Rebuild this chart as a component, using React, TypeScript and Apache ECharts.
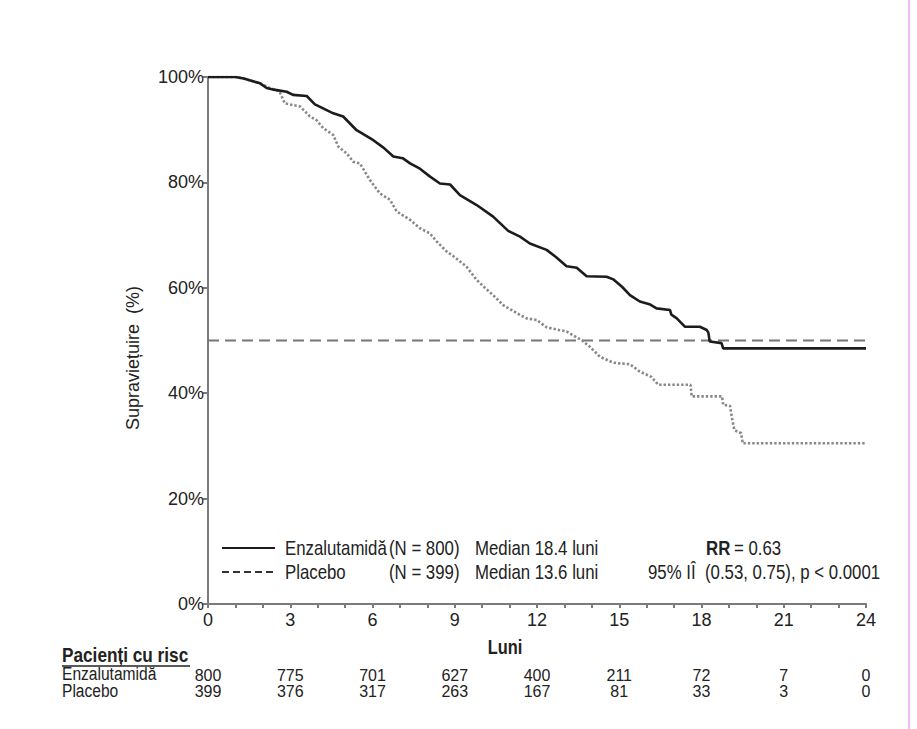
import React, { useEffect, useRef } from "react";
import * as echarts from "echarts";

// ---- data ----
const riskMonths = [0, 3, 6, 9, 12, 15, 18, 21, 24];
const riskEnza = [800, 775, 701, 627, 400, 211, 72, 7, 0];
const riskPlacebo = [399, 376, 317, 263, 167, 81, 33, 3, 0];
const yTickValues = [0, 20, 40, 60, 80, 100];
const medianLevel = 50;

const enzaCurve: [number, number][] = [
  [0, 100], [1.0, 100], [1.3, 99.7], [1.9, 98.8], [2.14, 97.9], [2.4, 97.6], [2.87, 97.2],
  [3.1, 96.6], [3.6, 96.4], [3.9, 94.8], [4.57, 93.1], [4.93, 92.5], [5.42, 89.9],
  [6.03, 88.0], [6.4, 86.6], [6.76, 84.9], [7.1, 84.6], [7.37, 83.6], [7.73, 82.6],
  [8.1, 81.1], [8.46, 79.8], [8.83, 79.6], [9.19, 77.6], [9.8, 75.7], [10.4, 73.5],
  [10.95, 70.8], [11.38, 69.7], [11.74, 68.4], [12.35, 67.2], [12.7, 65.8], [13.08, 64.1],
  [13.45, 63.8], [13.81, 62.2], [14.54, 62.1], [14.78, 61.6], [15.1, 60.2], [15.39, 58.6],
  [15.75, 57.4], [16.1, 56.9], [16.36, 56.1], [16.85, 55.8], [16.9, 54.9], [17.1, 54.2],
  [17.4, 52.6], [17.94, 52.6], [18.19, 52.0], [18.25, 51.5], [18.3, 49.8], [18.73, 49.5],
  [18.79, 48.5], [24, 48.5],
];

const placeboCurve: [number, number][] = [
  [0, 100], [1.0, 100], [1.3, 99.7], [1.9, 98.8], [2.26, 97.9], [2.6, 97.3], [2.69, 96.3],
  [2.8, 95.0], [3.36, 94.4], [3.72, 92.5], [3.96, 91.8], [4.2, 90.3], [4.57, 89.0],
  [4.75, 86.8], [5.06, 85.5], [5.3, 83.9], [5.54, 83.6], [5.9, 80.5], [6.27, 77.9],
  [6.64, 76.7], [6.88, 74.5], [7.37, 72.9], [7.73, 71.3], [8.1, 70.3], [8.34, 68.8],
  [8.7, 66.9], [8.95, 66.0], [9.43, 64.0], [9.8, 61.5], [10.1, 60.0], [10.4, 58.6],
  [10.77, 56.7], [11.26, 55.2], [11.62, 54.2], [11.99, 53.9], [12.35, 52.5], [13.08, 51.7],
  [13.45, 50.6], [13.65, 50.0], [13.93, 48.8], [14.3, 46.9], [14.78, 45.8], [14.9, 45.7],
  [15.39, 45.5], [15.75, 44.1], [16.17, 43.1], [16.42, 41.6], [17.6, 41.6], [17.64, 39.4],
  [18.75, 39.4], [18.79, 37.8], [19.04, 37.6], [19.1, 35.6], [19.2, 33.0], [19.45, 32.4],
  [19.5, 30.5], [24, 30.5],
];

const FONT = '"Liberation Sans", Arial, sans-serif';
const NARROW_SCALE = 0.82;

export default function App() {
  const ref = useRef<HTMLDivElement>(null);
  useEffect(() => {
    if (!ref.current) return;
    const chart = echarts.init(ref.current, undefined, { renderer: "svg" });
    const axisGray = "#7b7b7b";
    const textCol = "#222";
    const riskAxis = (vals: number[], offset: number) => ({
      type: "value",
      min: 0,
      max: 24,
      interval: 3,
      position: "bottom",
      offset,
      axisLine: { show: false },
      axisTick: { show: false },
      splitLine: { show: false },
      axisLabel: {
        margin: 0,
        color: textCol,
        fontFamily: FONT,
        fontSize: 16,
        lineHeight: 16,
        formatter: (v: number) => {
          const i = riskMonths.indexOf(v);
          return i >= 0 ? String(vals[i]) : "";
        },
      },
    });
    const legendY1 = 548;
    const legendY2 = 572;
    const lt = (text: string, x: number, y: number, extra: any = {}) => ({
      type: "text",
      x,
      y,
      scaleX: NARROW_SCALE,
      style: {
        text,
        fill: textCol,
        fontFamily: FONT,
        fontSize: 19,
        verticalAlign: "middle",
        align: "left",
        ...extra,
      },
    });
    const lg = (text: string, x: number, y: number, extra: any = {}) =>
      lt(text, x, y, { fontSize: 20.5, ...extra });
    chart.setOption({
      animation: false,
      backgroundColor: "#fff",
      grid: { left: 208, right: 51, top: 77, bottom: 125 },
      xAxis: [
        {
          type: "value",
          min: 0,
          max: 24,
          interval: 1,
          axisLine: { show: true, lineStyle: { color: axisGray, width: 2 } },
          axisTick: { show: true, length: 4, lineStyle: { color: axisGray, width: 2 } },
          splitLine: { show: false },
          axisLabel: {
            margin: 7,
            color: textCol,
            fontFamily: FONT,
            fontSize: 18,
            formatter: (v: number) => (riskMonths.indexOf(v) >= 0 ? String(v) : ""),
          },
        },
        riskAxis(riskEnza, 63),
        riskAxis(riskPlacebo, 79),
      ],
      yAxis: {
        type: "value",
        min: 0,
        max: 100,
        interval: 20,
        axisLine: { show: true, lineStyle: { color: axisGray, width: 2 } },
        axisTick: { show: true, length: 5, lineStyle: { color: axisGray, width: 2 } },
        splitLine: { show: false },
        axisLabel: {
          margin: 4,
          color: textCol,
          fontFamily: FONT,
          fontSize: 18,
          formatter: (v: number) => (yTickValues.indexOf(v) >= 0 ? v + "%" : ""),
        },
      },
      series: [
        {
          type: "line",
          data: [[0, medianLevel], [24, medianLevel]],
          showSymbol: false,
          silent: true,
          lineStyle: { color: "#777", width: 2, type: [11, 6] },
          z: 1,
        },
        {
          type: "line",
          data: placeboCurve,
          showSymbol: false,
          lineStyle: { color: "#888", width: 2.6, type: [2.4, 2] },
          z: 2,
        },
        {
          type: "line",
          data: enzaCurve,
          showSymbol: false,
          lineStyle: { color: "#1c1c1c", width: 2.6 },
          z: 3,
        },
      ],
      graphic: [
        {
          type: "text",
          x: 133,
          y: 358,
          rotation: Math.PI / 2,
          style: {
            text: "Supraviețuire  (%)",
            fill: textCol,
            fontFamily: FONT,
            fontSize: 18,
            align: "center",
            verticalAlign: "middle",
          },
        },
        lt("Luni", 505, 647, { fontWeight: "bold", fontSize: 20, align: "center" }),
        lt("Pacienți cu risc", 62, 655, { fontWeight: "bold", fontSize: 21 }),
        {
          type: "line",
          shape: { x1: 62, y1: 666, x2: 190, y2: 666 },
          style: { stroke: textCol, lineWidth: 1.5 },
        },
        lt("Enzalutamidă", 62, 673),
        lt("Placebo", 62, 690),
        // legend
        {
          type: "line",
          shape: { x1: 222, y1: legendY1, x2: 275, y2: legendY1 },
          style: { stroke: "#1c1c1c", lineWidth: 2 },
        },
        {
          type: "line",
          shape: { x1: 222, y1: legendY2, x2: 275, y2: legendY2 },
          style: { stroke: "#333", lineWidth: 2, lineDash: [7, 4] },
        },
        lg("Enzalutamidă", 285, legendY1),
        lg("(N = 800)", 389, legendY1),
        lg("Median 18.4 luni", 475, legendY1),
        lg("RR", 706, legendY1, { fontWeight: "bold" }),
        lg("= 0.63", 734, legendY1),
        lg("Placebo", 285, legendY2),
        lg("(N = 399)", 389, legendY2),
        lg("Median 13.6 luni", 475, legendY2),
        lg("95% IÎ  (0.53, 0.75), p < 0.0001", 648, legendY2),
        {
          type: "line",
          shape: { x1: 909, y1: 0, x2: 909, y2: 729 },
          style: { stroke: "#e8a6e8", lineWidth: 1.5 },
        },
      ],
    });
    return () => chart.dispose();
  }, []);
  return (
    <div
      ref={ref}
      style={{ position: "absolute", left: 0, top: 0, width: 917, height: 729, background: "#fff" }}
    />
  );
}
